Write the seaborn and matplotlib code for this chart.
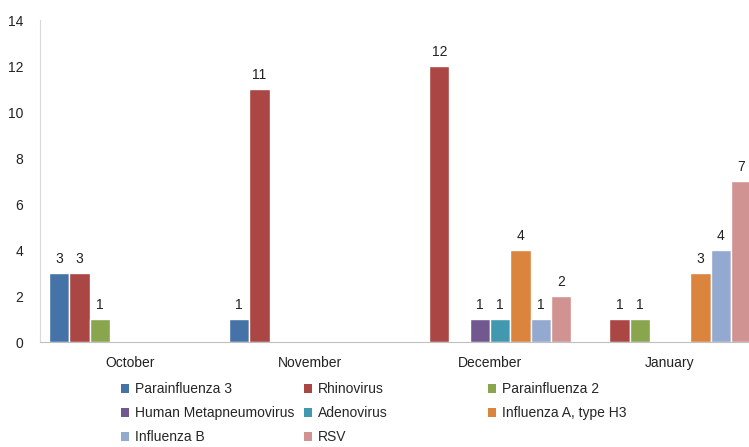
import numpy as np
import pandas as pd
import matplotlib
matplotlib.use("Agg")
import matplotlib.pyplot as plt
import seaborn as sns
from matplotlib.patches import Patch

# ---- data (blank cells = None) ----
months = ["October", "November", "December", "January"]
parainfluenza_3 = [3, 1, None, None]
rhinovirus = [3, 11, 12, 1]
parainfluenza_2 = [1, None, None, 1]
human_metapneumovirus = [None, None, 1, None]
adenovirus = [None, None, 1, None]
influenza_a_h3 = [None, None, 4, 3]
influenza_b = [None, None, 1, 4]
rsv = [None, None, 2, 7]

series_names = ["Parainfluenza 3", "Rhinovirus", "Parainfluenza 2",
                "Human Metapneumovirus", "Adenovirus", "Influenza A, type H3",
                "Influenza B", "RSV"]
series_values = [parainfluenza_3, rhinovirus, parainfluenza_2,
                 human_metapneumovirus, adenovirus, influenza_a_h3,
                 influenza_b, rsv]
colors = ["#4572A7", "#AA4643", "#89A54E", "#71588F",
          "#4198AF", "#DB843D", "#93A9CF", "#D19392"]

rows = []
for name, vals in zip(series_names, series_values):
    for m, v in zip(months, vals):
        if v is not None:
            rows.append({"month": m, "virus": name, "count": v})
df = pd.DataFrame(rows)

sns.set_style("white")
plt.rcParams["font.family"] = ["Liberation Sans", "DejaVu Sans"]

W, H = 749, 447
fig = plt.figure(figsize=(W / 100, H / 100), dpi=100)
# plot area runs past the right edge, as in the reference
ax = fig.add_axes([40 / W, 105 / H, 720 / W, 322 / H])

sns.barplot(data=df, x="month", y="count", hue="virus", order=months,
            hue_order=series_names, palette=colors, width=0.9,
            errorbar=None, legend=False, ax=ax, saturation=1)

for c in ax.containers:
    ax.bar_label(c, fmt="%g", padding=5, fontsize=10, color="#222222")

ax.set_xlim(-0.5, 3.5)
ax.set_ylim(0, 14)
ax.set_yticks(range(0, 15, 2))
ax.set_xlabel("")
ax.set_ylabel("")
ax.tick_params(axis="both", length=0, labelsize=10, colors="#222222")
ax.tick_params(axis="y", pad=12)
ax.tick_params(axis="x", pad=10)
for s in ["top", "right"]:
    ax.spines[s].set_visible(False)
ax.spines["left"].set_color("#d9d9d9")
ax.spines["bottom"].set_color("#bfbfbf")

# legend: three separate columns, filled row by row like the original
col_x = [121, 304, 488]
for ci in range(3):
    idx = [i for i in range(len(series_names)) if i % 3 == ci]
    handles = [Patch(facecolor=colors[i], edgecolor="none") for i in idx]
    labels = [series_names[i] for i in idx]
    fig.legend(handles, labels, loc="upper left",
               bbox_to_anchor=(col_x[ci] / W, 1 - 382 / H),
               frameon=False, fontsize=10, handlelength=0.6,
               handleheight=0.6, handletextpad=0.4, labelspacing=0.72,
               borderaxespad=0, borderpad=0)

fig.savefig("out.png", dpi=100)
